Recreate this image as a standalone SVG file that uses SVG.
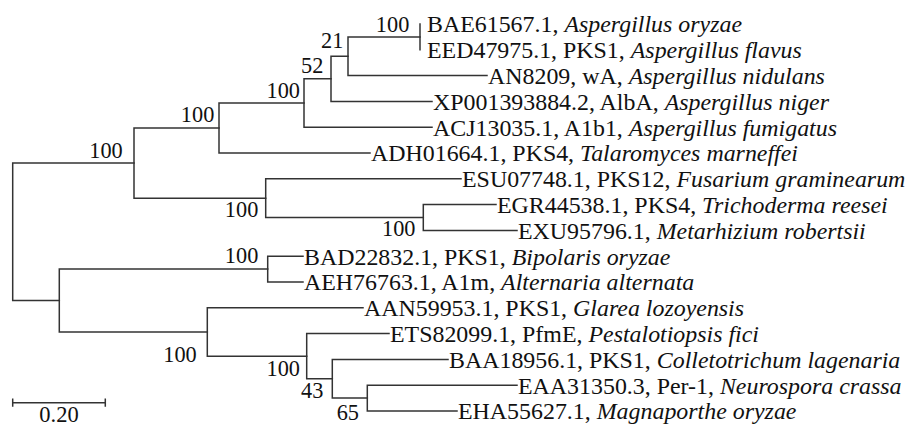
<svg xmlns="http://www.w3.org/2000/svg" width="912" height="427" viewBox="0 0 912 427">
<style>
.br{fill:none;stroke:#333333;stroke-width:1.5;stroke-linecap:square}
text{font-family:'Liberation Serif','Times New Roman',Times,serif;fill:#111111}
.tip{font-size:23.9px}
.bs{font-size:22.3px;text-anchor:end}
.sp{font-style:italic}
</style>
<rect width="912" height="427" fill="#ffffff"/>
<g id="connectors" class="br">
<path d="M12.7,163V300.5M12.7,163H134M12.7,300.5H59.3"/>
<path d="M134,128V198.2M134,128H219M134,198.2H265.7"/>
<path d="M219,103V153M219,103H304M219,153H370"/>
<path d="M304,78.8V127.2M304,78.8H331M304,127.2H432"/>
<path d="M331,56.25V101.4M331,56.25H348M331,101.4H432"/>
<path d="M348,36.9V75.6M348,36.9H420M348,75.6H487"/>
<path d="M420,24V49.8"/>
<path d="M265.7,178.8V217.5M265.7,178.8H461M265.7,217.5H423.3"/>
<path d="M423.3,204.6V230.4M423.3,204.6H496M423.3,230.4H517"/>
<path d="M59.3,269.1V332M59.3,269.1H267.7M59.3,332H207.3"/>
<path d="M267.7,256.2V282M267.7,256.2H303M267.7,282H303"/>
<path d="M207.3,307.8V356.2M207.3,307.8H363M207.3,356.2H306.7"/>
<path d="M306.7,333.6V378.75M306.7,333.6H389M306.7,378.75H332.3"/>
<path d="M332.3,359.4V398.1M332.3,359.4H448M332.3,398.1H367.3"/>
<path d="M367.3,385.2V411M367.3,385.2H517M367.3,411H457"/>
</g>
<g id="internal-nodes">
<g id="nA"><text class="bs" x="122.7" y="158.3">100</text></g>
<g id="nB"><text class="bs" x="214.3" y="121.7">100</text></g>
<g id="nC"><text class="bs" x="300" y="98.3">100</text></g>
<g id="nD"><text class="bs" x="323.3" y="73.3">52</text></g>
<g id="nE"><text class="bs" x="343.3" y="48.3">21</text></g>
<g id="nF"><text class="bs" x="409.3" y="31.7">100</text></g>
<g id="nL"><text class="bs" x="258.3" y="217">100</text></g>
<g id="nM"><text class="bs" x="415.5" y="235.5">100</text></g>
<g id="nH"><text class="bs" x="258.3" y="263.3">100</text></g>
<g id="nI"><text class="bs" x="196.7" y="361.7">100</text></g>
<g id="nJ"><text class="bs" x="300" y="376">100</text></g>
<g id="nK"><text class="bs" x="323.3" y="398.3">43</text></g>
<g id="nK2"><text class="bs" x="359" y="420">65</text></g>
</g>
<g id="tips">
<g id="t-BAE61567"><text class="tip" x="427" y="32.3">BAE61567.1, <tspan class="sp">Aspergillus oryzae</tspan></text></g>
<g id="t-EED47975"><text class="tip" x="427" y="58">EED47975.1, PKS1, <tspan class="sp">Aspergillus flavus</tspan></text></g>
<g id="t-AN8209"><text class="tip" x="488" y="83.9">AN8209, wA, <tspan class="sp">Aspergillus nidulans</tspan></text></g>
<g id="t-XP001393884"><text class="tip" x="433" y="109.7">XP001393884.2, AlbA, <tspan class="sp">Aspergillus niger</tspan></text></g>
<g id="t-ACJ13035"><text class="tip" x="433" y="135.5">ACJ13035.1, A1b1, <tspan class="sp">Aspergillus fumigatus</tspan></text></g>
<g id="t-ADH01664"><text class="tip" x="371" y="161.3">ADH01664.1, PKS4, <tspan class="sp">Talaromyces marneffei</tspan></text></g>
<g id="t-ESU07748"><text class="tip" x="462" y="187.1">ESU07748.1, PKS12, <tspan class="sp">Fusarium graminearum</tspan></text></g>
<g id="t-EGR44538"><text class="tip" x="497" y="212.9">EGR44538.1, PKS4, <tspan class="sp">Trichoderma reesei</tspan></text></g>
<g id="t-EXU95796"><text class="tip" x="518" y="238.7">EXU95796.1, <tspan class="sp">Metarhizium robertsii</tspan></text></g>
<g id="t-BAD22832"><text class="tip" x="304" y="264.5">BAD22832.1, PKS1, <tspan class="sp">Bipolaris oryzae</tspan></text></g>
<g id="t-AEH76763"><text class="tip" x="304" y="290.3">AEH76763.1, A1m, <tspan class="sp">Alternaria alternata</tspan></text></g>
<g id="t-AAN59953"><text class="tip" x="364" y="316.1">AAN59953.1, PKS1, <tspan class="sp">Glarea lozoyensis</tspan></text></g>
<g id="t-ETS82099"><text class="tip" x="390" y="341.9">ETS82099.1, PfmE, <tspan class="sp">Pestalotiopsis fici</tspan></text></g>
<g id="t-BAA18956"><text class="tip" x="449" y="367.7">BAA18956.1, PKS1, <tspan class="sp">Colletotrichum lagenaria</tspan></text></g>
<g id="t-EAA31350"><text class="tip" x="518" y="393.5">EAA31350.3, Per-1, <tspan class="sp">Neurospora crassa</tspan></text></g>
<g id="t-EHA55627"><text class="tip" x="458" y="419.3">EHA55627.1, <tspan class="sp">Magnaporthe oryzae</tspan></text></g>
</g>
<g id="scale-bar">
<path class="br" d="M12.7,402.7H105.3M12.7,399.3V406M105.3,399.3V406"/>
<text x="39.3" y="422" style="font-size:22.5px">0.20</text>
</g>
</svg>
